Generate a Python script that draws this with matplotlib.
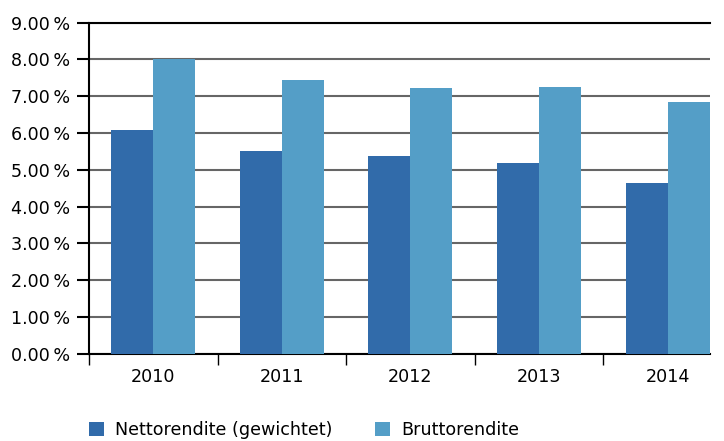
import matplotlib.pyplot as plt
import numpy as np
from matplotlib.ticker import FixedLocator, FuncFormatter

years = ["2010", "2011", "2012", "2013", "2014"]
netto = [6.08, 5.51, 5.37, 5.18, 4.64]
brutto = [8.00, 7.44, 7.22, 7.25, 6.84]
labels = ["Nettorendite (gewichtet)", "Bruttorendite"]

c_netto = "#316BAA"
c_brutto = "#549EC7"
fs = 12.6

fig = plt.figure(figsize=(7.24, 4.41), dpi=100)
ax = fig.add_axes([89 / 724, 87.3 / 441, (710 - 89) / 724, (353.7 - 22.7) / 441])

x = np.arange(len(years))
w = 0.327
ax.bar(x - w / 2, netto, w, color=c_netto, label=labels[0], zorder=3)
ax.bar(x + w / 2, brutto, w, color=c_brutto, label=labels[1], zorder=3)

ax.set_ylim(0, 9)
ax.set_xlim(-0.5, 4.33)
ax.set_yticks(np.arange(0, 10, 1))
ax.yaxis.set_major_formatter(FuncFormatter(lambda v, p: f"{v:.2f}\u2009%"))
ax.grid(axis="y", color="#666666", linewidth=1.5, zorder=0)
ax.tick_params(axis="y", length=8.6, width=1.5, color="black", pad=5, labelsize=fs)

# category boundaries get the tick marks, labels sit in between
ax.xaxis.set_major_locator(FixedLocator(np.arange(-0.5, 5, 1)))
ax.xaxis.set_major_formatter(FuncFormatter(lambda v, p: ""))
ax.xaxis.set_minor_locator(FixedLocator(x))
ax.set_xticklabels(years, minor=True)
ax.tick_params(axis="x", which="major", length=8, width=1, color="black", direction="out")
ax.tick_params(axis="x", which="minor", length=0, pad=10, labelsize=fs)

ax.spines["right"].set_visible(False)
for s in ["left", "bottom", "top"]:
    ax.spines[s].set_linewidth(1.5)
    ax.spines[s].set_color("black")

fig.legend(loc="center left", bbox_to_anchor=(89 / 724, 11 / 441), ncol=2,
           frameon=False, fontsize=fs, handlelength=0.87, handleheight=0.87,
           handletextpad=0.64, columnspacing=2.4, borderpad=0, borderaxespad=0)

fig.savefig("out.png", dpi=100)
